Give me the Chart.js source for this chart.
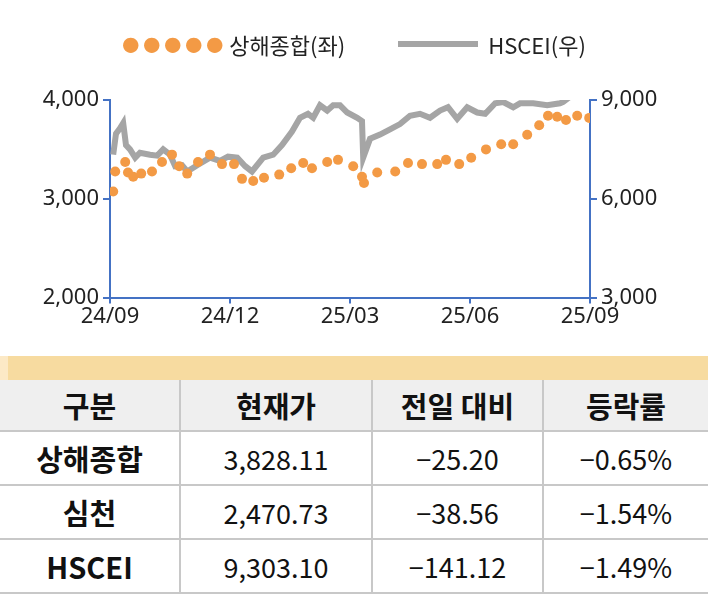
<!DOCTYPE html>
<html><head><meta charset="utf-8">
<script src="https://cdn.jsdelivr.net/npm/chart.js@4/dist/chart.umd.min.js"></script>
<style>
body{margin:0;width:708px;height:596px;overflow:hidden;background:#fff;font-family:"Noto Sans CJK KR","Noto Sans",sans-serif;}
#wrap{position:absolute;left:0;top:0;width:708px;height:330px;}
#legend{position:absolute;top:24px;left:0;width:708px;text-align:center;font-size:22px;color:#222;}
#legend span{display:inline-block;vertical-align:middle;}
table{position:absolute;left:0;top:380px;width:708px;border-collapse:collapse;table-layout:fixed;}
td{border:2px solid #c8c8c8;text-align:center;height:52px;font-size:27px;color:#111;padding:0;}
tr:first-child td{background:#efefef;font-weight:bold;font-size:29px;border-top:none;height:50px;}
td:first-child{font-weight:bold;font-size:29px;border-left:none;}
td:last-child{border-right:none;}
#band{position:absolute;left:8px;top:356px;width:700px;height:24px;background:#f7dba0;}
#band2{position:absolute;left:0;top:356px;width:8px;height:24px;background:#fce9c6;}
</style></head><body>
<div id="wrap"><canvas id="c"></canvas></div>
<div id="legend">
<span style="color:#f39a45;font-size:17px;letter-spacing:4px;margin-right:2px">●●●●●</span><span>상해종합(좌)</span>
<span style="width:80px;height:6px;background:#a5a5a5;margin:0 10px 0 48px"></span><span>HSCEI(우)</span>
</div>
<div id="band2"></div><div id="band"></div>
<table>
<colgroup><col style="width:180px"><col style="width:192px"><col style="width:171px"><col style="width:165px"></colgroup>
<tbody id="tb"></tbody>
</table>
<script>
// x in months from 24/09
const shX=[0.08,0.13,0.38,0.45,0.58,0.78,1.05,1.3,1.55,1.73,1.93,2.2,2.5,2.8,3.1,3.3,3.58,3.85,4.23,4.53,4.83,5.05,5.43,5.7,6.08,6.3,6.35,6.68,7.13,7.45,7.8,8.18,8.4,8.73,9.03,9.4,9.78,10.08,10.43,10.73,10.95,11.18,11.4,11.68,11.98];
const shY=[3074,3277,3372,3266,3223,3255,3277,3372,3447,3330,3255,3372,3447,3351,3351,3202,3180,3213,3245,3309,3362,3309,3372,3394,3330,3223,3160,3266,3277,3362,3351,3351,3394,3351,3415,3500,3553,3553,3649,3745,3840,3830,3798,3840,3819];
const hsX=[0.08,0.15,0.25,0.33,0.4,0.5,0.63,0.75,1.0,1.18,1.33,1.5,1.63,1.8,1.93,2.18,2.5,2.75,2.95,3.18,3.38,3.55,3.83,4.08,4.3,4.55,4.75,4.95,5.08,5.25,5.43,5.58,5.75,5.93,6.18,6.3,6.33,6.5,6.75,7.0,7.25,7.5,7.75,8.0,8.25,8.45,8.68,8.93,9.18,9.38,9.63,9.83,10.08,10.25,10.58,10.93,11.25,11.33,11.5,11.75,11.98];
const hsY=[7340,7980,8140,8300,7630,7500,7250,7400,7340,7310,7500,7340,6990,7020,6830,7020,7250,7150,7280,7250,6990,6830,7250,7340,7630,8040,8460,8580,8460,8840,8680,8840,8840,8620,8460,8360,7250,7820,7950,8110,8270,8520,8580,8460,8680,8780,8430,8780,8620,8580,8900,8940,8780,8900,8900,8840,8900,8940,9100,9250,9300];
const xTicks=['24/09','24/12','25/03','25/06','25/09'];
const leftTicks=[2000,3000,4000], rightTicks=[3000,6000,9000];
const rows=[['구분','현재가','전일 대비','등락률'],['상해종합','3,828.11','−25.20','−0.65%'],['심천','2,470.73','−38.56','−1.54%'],['HSCEI','9,303.10','−141.12','−1.49%']];
document.getElementById('tb').innerHTML=rows.map(r=>'<tr>'+r.map(c=>'<td>'+c+'</td>').join('')+'</tr>').join('');
const fmt=v=>v.toLocaleString('en-US');
const axisCol='#4472c4';
new Chart(document.getElementById('c'),{
 type:'line',
 data:{datasets:[
  {data:shX.map((x,i)=>({x,y:shY[i]})),yAxisID:'yL',showLine:false,pointRadius:5,pointBackgroundColor:'#f39a45',pointBorderWidth:0,order:0},
  {data:hsX.map((x,i)=>({x,y:hsY[i]})),yAxisID:'yR',borderColor:'#a5a5a5',borderWidth:6,pointRadius:0,tension:0,order:1,clip:0}
 ]},
 options:{responsive:true,maintainAspectRatio:false,animation:false,
  layout:{padding:{top:100,bottom:0}},
  plugins:{legend:{display:false},tooltip:{enabled:false}},
  scales:{
   x:{type:'linear',min:0,max:12,afterBuildTicks:a=>{a.ticks=[0,3,6,9,12].map(v=>({value:v}));},
      ticks:{callback:(v)=>xTicks[v/3],color:'#222',font:{size:22,family:'Noto Sans'},padding:0,maxRotation:0},
      grid:{display:true,drawOnChartArea:false,color:axisCol,tickLength:6,lineWidth:2},border:{color:axisCol,width:2}},
   yL:{position:'left',min:2000,max:4000,afterBuildTicks:a=>{a.ticks=leftTicks.map(v=>({value:v}));},
      afterFit:s=>{s.width=110;},
      ticks:{callback:fmt,color:'#222',font:{size:22,family:'Noto Sans'},padding:4},
      grid:{drawOnChartArea:false,color:axisCol,tickLength:7,lineWidth:2},border:{color:axisCol,width:2}},
   yR:{position:'right',min:3000,max:9000,afterBuildTicks:a=>{a.ticks=rightTicks.map(v=>({value:v}));},
      afterFit:s=>{s.width=118;},
      ticks:{callback:fmt,color:'#222',font:{size:22,family:'Noto Sans'},padding:4},
      grid:{drawOnChartArea:false,color:axisCol,tickLength:7,lineWidth:2},border:{color:axisCol,width:2}}
  }}
});
</script></body></html>
